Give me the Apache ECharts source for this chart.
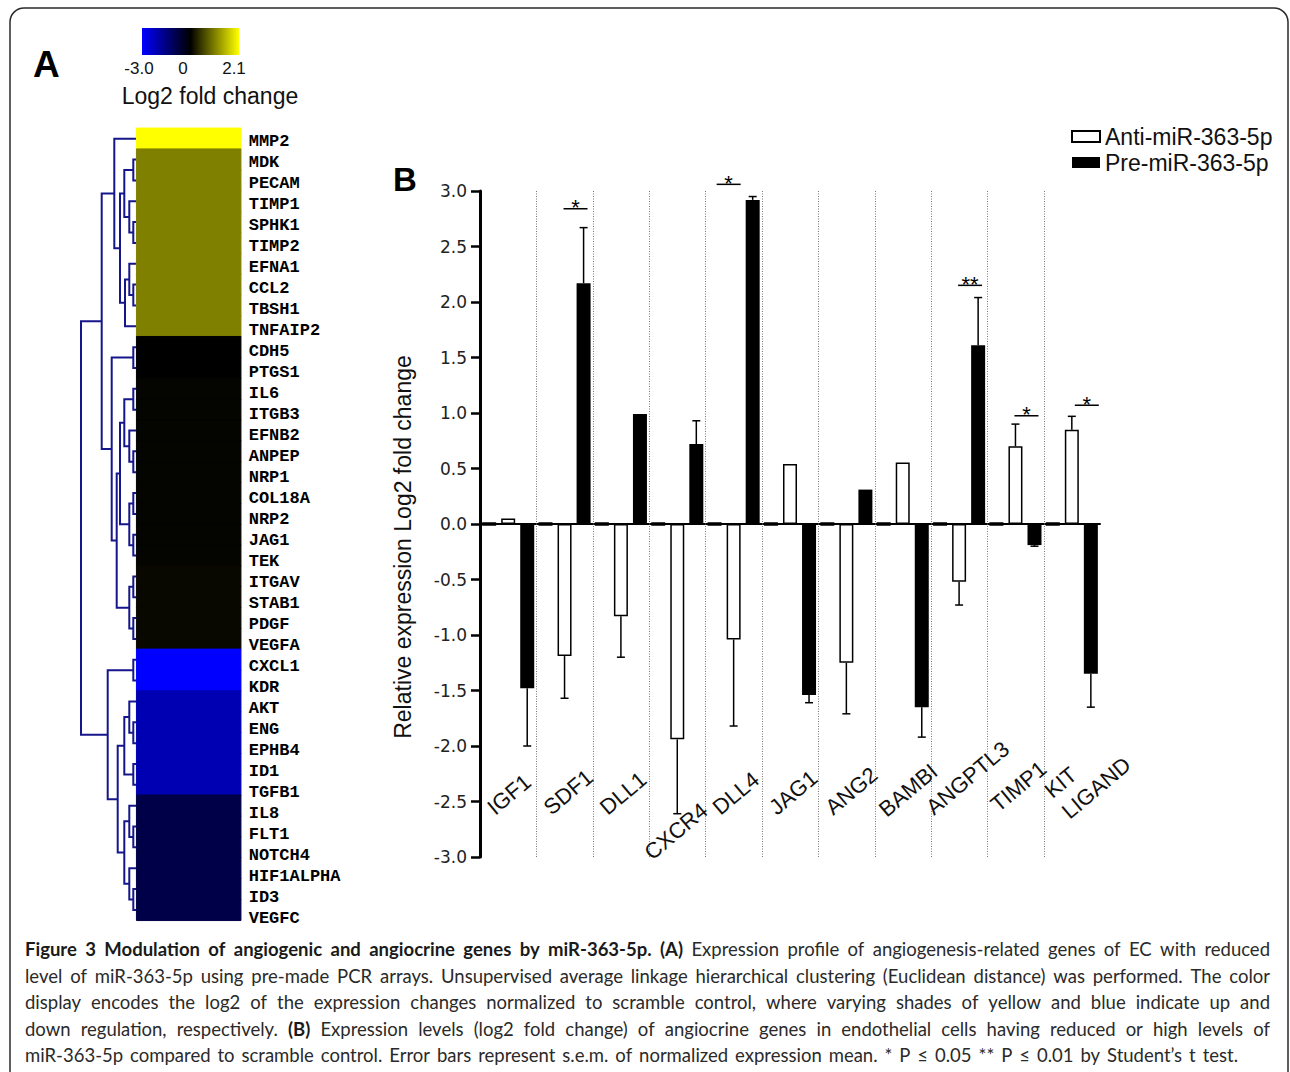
<!DOCTYPE html>
<html><head><meta charset="utf-8">
<script src="https://cdn.jsdelivr.net/npm/echarts@6/dist/echarts.min.js"></script>
<style>html,body{margin:0;padding:0;background:#fff}#c{width:1290px;height:1072px}</style>
</head><body><div id="c"></div>
<script>
// ---------------- Panel A data ----------------
const genes = ['MMP2','MDK','PECAM','TIMP1','SPHK1','TIMP2','EFNA1','CCL2','TBSH1','TNFAIP2',
  'CDH5','PTGS1','IL6','ITGB3','EFNB2','ANPEP','NRP1','COL18A','NRP2','JAG1','TEK',
  'ITGAV','STAB1','PDGF','VEGFA','CXCL1','KDR','AKT','ENG','EPHB4','ID1','TGFB1',
  'IL8','FLT1','NOTCH4','HIF1ALPHA','ID3','VEGFC'];
const geneLog2FC = [2.1,
  1.05,1.05,1.05,1.05,1.05,1.05,1.05,1.05,1.05,
  0.0,0.0,
  0.03,0.03,0.03,0.03,0.03,0.03,0.03,0.03,0.03,
  0.07,0.07,0.07,0.07,
  -3.0,-3.0,
  -2.1,-2.1,-2.1,-2.1,-2.1,
  -0.85,-0.85,-0.85,-0.85,-0.85,-0.85];
const colorScaleMin = -3.0;
const colorScaleMax = 2.1;
const colorScaleTicks = ['-3.0','0','2.1'];
// dendrogram merges: [childA, childB, height]; ids < 38 are gene rows, id 38+k is merge k
const dendroMerges = [
  [1,2,3.4],[4,5,3.4],[3,39,7.4],[38,40,12.4],[7,8,3.4],[6,42,7.4],[43,9,11.7],[41,44,16.7],[0,45,22.4],
  [10,11,3.4],[12,13,3.4],[15,16,3.4],[14,49,7.4],[48,50,12.4],[17,18,3.4],[19,20,3.4],[52,53,7.4],[51,54,16.7],
  [21,22,3.4],[23,24,3.4],[56,57,7.4],[55,58,20],[47,59,25],[46,60,35],
  [25,26,3.4],[28,29,3.4],[27,63,7.4],[30,31,3.4],[64,65,12.4],[33,34,3.4],[32,67,7.4],[36,37,3.4],[35,69,7.4],
  [68,70,12.4],[66,71,19],[62,72,29],[61,73,55.7]
];

// ---------------- Panel B data ----------------
const barGenes = ['IGF1','SDF1','DLL1','CXCR4','DLL4','JAG1','ANG2','BAMBI','ANGPTL3','TIMP1','KIT\nLIGAND'];
const scrambleCtrl = [0,0,0,0,0,0,0,0,0,0,0];
const antiMean = [0.05,-1.19,-0.83,-1.94,-1.04,0.54,-1.25,0.555,-0.52,0.70,0.85];
const antiSem  = [0,0.38,0.37,0.67,0.78,0,0.46,0,0.21,0.20,0.12];
const preMean  = [-1.48,2.17,0.99,0.72,2.92,-1.54,0.31,-1.65,1.61,-0.19,-1.35];
const preSem   = [0.52,0.50,0,0.21,0.03,0.07,0,0.27,0.43,0.01,0.30];
const sigGenes = ['SDF1','DLL4','ANGPTL3','TIMP1','KIT\nLIGAND'];
const sigMarks = ['*','*','**','*','*'];
const sigLevel = [2.84,3.06,2.15,0.975,1.07];

// ---------------- caption text ----------------
const captionLines = [
  [['Figure 3 Modulation of angiogenic and angiocrine genes by miR-363-5p.', true], ['(A)', true], ['Expression profile of angiogenesis-related genes of EC with reduced', false]],
  [['level of miR-363-5p using pre-made PCR arrays. Unsupervised average linkage hierarchical clustering (Euclidean distance) was performed. The color', false]],
  [['display encodes the log2 of the expression changes normalized to scramble control, where varying shades of yellow and blue indicate up and', false]],
  [['down regulation, respectively.', false], ['(B)', true], ['Expression levels (log2 fold change) of angiocrine genes in endothelial cells having reduced or high levels of', false]],
  [['miR-363-5p compared to scramble control. Error bars represent s.e.m. of normalized expression mean. * P \u2264 0.05 ** P \u2264 0.01 by Student\u2019s t test.', false]]
];

// ================= build =================
const SANS = '"Liberation Sans", Arial, sans-serif';
const nLeaf = genes.length;
const nodeH = [], nodeY = [];
for (let i = 0; i < nLeaf; i++) { nodeH[i] = 0; nodeY[i] = i; }
const dendroData = dendroMerges.map((m, k) => {
  const a = m[0], b = m[1], h = m[2], id = nLeaf + k;
  nodeH[id] = h; nodeY[id] = (nodeY[a] + nodeY[b]) / 2;
  return [h, nodeY[id], nodeH[a], nodeY[a], nodeH[b], nodeY[b]];
});

// colour scale: blue -> black at 0 -> yellow
function colorFor(v) {
  if (v < 0) { const b = Math.round(255 * Math.min(1, v / colorScaleMin)); return 'rgb(0,0,' + b + ')'; }
  const y = Math.round(255 * Math.min(1, v / colorScaleMax)); return 'rgb(' + y + ',' + y + ',0)';
}
const nStops = 51, stops = [];
for (let i = 0; i <= nStops; i++) stops.push(colorFor(colorScaleMin + (colorScaleMax - colorScaleMin) * i / nStops));

const heatData = genes.map((g, i) => ({value: [0, i, geneLog2FC[i]], itemStyle: {borderColor: colorFor(geneLog2FC[i]), borderWidth: 1}}));

const BAR_W = 14, BAR_GAP = 0.36, BAR_STEP = BAR_W * (1 + BAR_GAP);
const errData = [];
barGenes.forEach((g, i) => {
  errData.push([i, antiMean[i], antiSem[i], 1]);
  errData.push([i, preMean[i], preSem[i], 2]);
});
const sigData = sigGenes.map((g, k) => [barGenes.indexOf(g), sigLevel[k], k]);
const dividerData = barGenes.slice(0, -1).map((g, i) => [i, 3]);
const labelData = barGenes.map((g, i) => [i, -2.6]);
const labelNudge = {'CXCR4': [-12, 45], 'ANGPTL3': [-12, 0], 'KIT\nLIGAND': [11, 4], 'BAMBI': [-3, 2], 'TIMP1': [-4, -3]};
const sigShift = {'DLL4': -16, 'KIT\nLIGAND': 4};

function txtStyle(o) {
  const s = Object.assign({}, o);
  if (s.align) s.textAlign = s.align;
  if (s.verticalAlign) s.textVerticalAlign = s.verticalAlign;
  if (s.fill) s.textFill = s.fill;
  return s;
}

function renderDendro(params, api) {
  const h = api.value(0), ha = api.value(2), ya = api.value(3), hb = api.value(4), yb = api.value(5);
  const pts = [api.coord([ha, ya]), api.coord([h, ya]), api.coord([h, yb]), api.coord([hb, yb])];
  return {type: 'polyline', shape: {points: pts}, style: {stroke: '#16168c', lineWidth: 2, fill: null}};
}
function renderErr(params, api) {
  const i = api.value(0), v = api.value(1), e = api.value(2), slot = api.value(3);
  if (!e) return null;
  const dx = (slot - 1) * BAR_STEP;
  const p0 = api.coord([i, v]), p1 = api.coord([i, v + (v < 0 ? -e : e)]);
  const x = p0[0] + dx;
  return {type: 'group', children: [
    {type: 'line', shape: {x1: x, y1: p0[1], x2: x, y2: p1[1]}, style: {stroke: '#000', lineWidth: 1.5}},
    {type: 'line', shape: {x1: x - 4, y1: p1[1], x2: x + 4, y2: p1[1]}, style: {stroke: '#000', lineWidth: 1.5}}
  ]};
}
function renderDivider(params, api) {
  const i = api.value(0);
  const t = api.coord([i, 3]), b = api.coord([i, -3]);
  const band = api.size([1, 0])[0];
  const x = Math.round(t[0] + band / 2) + 0.5;
  return {type: 'line', shape: {x1: x, y1: t[1], x2: x, y2: b[1]}, style: {stroke: '#777', lineWidth: 1, lineDash: [1, 1.5]}};
}
function renderSig(params, api) {
  const i = api.value(0), lvl = api.value(1), k = api.value(2);
  const c = api.coord([i, lvl]);
  const sh = sigShift[barGenes[i]] || 0;
  const x1 = c[0] - 1 + sh, x2 = c[0] + 23 + sh;
  return {type: 'group', children: [
    {type: 'line', shape: {x1: x1, y1: c[1], x2: x2, y2: c[1]}, style: {stroke: '#000', lineWidth: 1.5}},
    {type: 'text', x: (x1 + x2) / 2, y: c[1] - 1, style: txtStyle({text: sigMarks[k], font: '22px ' + SANS, fill: '#000', align: 'center', verticalAlign: 'middle'})}
  ]};
}
function renderLabel(params, api) {
  const i = api.value(0), v = api.value(1);
  const name = barGenes[i];
  const c = api.coord([i, v]);
  const band = api.size([1, 0])[0];
  const n = labelNudge[name] || [0, 0];
  return {type: 'text', x: c[0] - band / 2 + 19 + n[0], y: c[1] + 8 + n[1], rotation: 40 * Math.PI / 180,
    style: txtStyle({text: name, x: 0, y: 0, font: '22px ' + SANS, fill: '#111', align: 'left', verticalAlign: 'bottom', lineHeight: 27})};
}

// ---------------- graphics: frame, panel letters, colour bar, caption ----------------
const graphics = [];
graphics.push({type: 'rect', z: -10, shape: {x: 10, y: 8, width: 1278, height: 1085, r: 14}, style: {fill: null, stroke: '#2b2b2b', lineWidth: 1.5}});
graphics.push({type: 'text', x: 33, y: 64, style: txtStyle({text: 'A', font: 'bold 37px ' + SANS, fill: '#000', align: 'left', verticalAlign: 'middle'})});
graphics.push({type: 'text', x: 393, y: 179, style: txtStyle({text: 'B', font: 'bold 33px ' + SANS, fill: '#000', align: 'left', verticalAlign: 'middle'})});
graphics.push({type: 'rect', shape: {x: 142, y: 28, width: 97, height: 27}, style: {fill: {type: 'linear', x: 0, y: 0, x2: 1, y2: 0,
  colorStops: [{offset: 0, color: stops[0]}, {offset: 0.5, color: '#000'}, {offset: 1, color: stops[stops.length - 1]}]}}});
const cbX = [139, 183, 234];
colorScaleTicks.forEach((t, i) => graphics.push({type: 'text', x: cbX[i], y: 68, style: txtStyle({text: t, font: '17px ' + SANS, fill: '#111', align: 'center', verticalAlign: 'middle'})}));
graphics.push({type: 'text', x: 210, y: 96, style: txtStyle({text: 'Log2 fold change', font: '23px ' + SANS, fill: '#111', align: 'center', verticalAlign: 'middle'})});

// caption, justified word by word
const cv = document.createElement('canvas').getContext('2d');
const CAP_FONT = 'Lato';
function wW(w, bold, size) { cv.font = (bold ? 'bold ' : '') + size + 'px ' + CAP_FONT; return cv.measureText(w).width; }
const capLeft = 25, capRight = [1270, 1270, 1270, 1270, 1238], capY = [949, 975.5, 1002, 1028.5, 1055];
const capWords = captionLines.map(segs => {
  const ws = [];
  segs.forEach(s => s[0].split(' ').forEach(w => ws.push([w, s[1]])));
  return ws;
});
let capSize = 18.5;
capWords.forEach((ws, li) => {
  let tot = 0; ws.forEach(w => tot += wW(w[0], w[1], capSize));
  tot += (ws.length - 1) * capSize * 0.2;
  const tgt = capRight[li] - capLeft;
  if (tot > tgt) capSize = capSize * tgt / tot;
});
capWords.forEach((ws, li) => {
  const widths = ws.map(w => wW(w[0], w[1], capSize));
  const sum = widths.reduce((a, b) => a + b, 0);
  const gap = (capRight[li] - capLeft - sum) / (ws.length - 1);
  let x = capLeft;
  ws.forEach((w, k) => {
    graphics.push({type: 'text', x: x, y: capY[li], style: txtStyle({text: w[0], font: (w[1] ? 'bold ' : '') + capSize.toFixed(2) + 'px ' + CAP_FONT,
      fill: w[1] ? '#1a1a1a' : '#2a2a2a', align: 'left', verticalAlign: 'middle'})});
    x += widths[k] + gap;
  });
});

const HM_TOP = 128.3, HM_H = 792;
const option = {
  backgroundColor: '#fff',
  animation: false,
  graphic: {elements: graphics},
  legend: {data: ['Anti-miR-363-5p', 'Pre-miR-363-5p'], orient: 'vertical', left: 1066, top: 120,
    itemWidth: 28, itemHeight: 11, itemGap: 3, icon: 'rect',
    textStyle: {fontSize: 23, fontFamily: SANS, color: '#111'}},
  visualMap: {type: 'continuous', show: false, seriesIndex: 1, min: colorScaleMin, max: colorScaleMax, inRange: {color: stops}},
  grid: [
    {left: 81, top: HM_TOP, width: 55.7, height: HM_H, outerBoundsMode: 'none', containLabel: false},
    {left: 136.7, top: HM_TOP, width: 104, height: HM_H, outerBoundsMode: 'none', containLabel: false},
    {left: 136.7, top: 131.2, width: 104, height: 797.6, outerBoundsMode: 'none', containLabel: false},
    {left: 480, top: 191, width: 620, height: 666, outerBoundsMode: 'none', containLabel: false}
  ],
  xAxis: [
    {gridIndex: 0, type: 'value', min: 0, max: 55.7, inverse: true, show: false},
    {gridIndex: 1, type: 'category', data: ['log2FC'], show: false},
    {gridIndex: 2, type: 'value', show: false},
    {gridIndex: 3, type: 'category', data: barGenes,
      axisLine: {onZero: true, lineStyle: {color: '#000', width: 2}}, axisTick: {show: false}, axisLabel: {show: false}, splitLine: {show: false}}
  ],
  yAxis: [
    {gridIndex: 0, type: 'value', min: -0.5, max: nLeaf - 0.5, inverse: true, show: false},
    {gridIndex: 1, type: 'category', data: genes, inverse: true, show: false},
    {gridIndex: 2, type: 'category', data: genes, inverse: true, position: 'right',
      axisLine: {show: false}, axisTick: {show: false}, splitLine: {show: false},
      axisLabel: {interval: 0, margin: 8, fontFamily: '"Liberation Mono", "Courier New", monospace', fontWeight: 'bold', fontSize: 17, color: '#000'}},
    {gridIndex: 3, type: 'value', min: -3, max: 3, interval: 0.5,
      name: 'Relative expression Log2 fold change', nameLocation: 'middle', nameGap: 66,
      nameTextStyle: {fontSize: 23, fontFamily: SANS, color: '#111', padding: [0, 46, 0, 0]},
      axisLine: {show: true, onZero: false, lineStyle: {color: '#000', width: 3}},
      axisTick: {show: true, length: 9, lineStyle: {color: '#000', width: 2.5}},
      axisLabel: {margin: 13, formatter: v => v.toFixed(1), fontFamily: '"DejaVu Sans", sans-serif', fontSize: 17, color: '#222'},
      splitLine: {show: false}}
  ],
  series: [
    {type: 'custom', name: 'dendrogram', xAxisIndex: 0, yAxisIndex: 0, renderItem: renderDendro, data: dendroData, encode: {x: 0, y: 1}, silent: true},
    {type: 'heatmap', name: 'log2 fold change', xAxisIndex: 1, yAxisIndex: 1, data: heatData, emphasis: {disabled: true}, silent: true},
    {type: 'bar', name: 'Scramble control', xAxisIndex: 3, yAxisIndex: 3, data: scrambleCtrl, barWidth: BAR_W, barGap: (BAR_GAP * 100) + '%',
      itemStyle: {color: '#000', borderColor: '#000', borderWidth: 3.5}, silent: true},
    {type: 'bar', name: 'Anti-miR-363-5p', xAxisIndex: 3, yAxisIndex: 3, data: antiMean, barWidth: BAR_W, barGap: (BAR_GAP * 100) + '%',
      itemStyle: {color: '#fff', borderColor: '#000', borderWidth: 1.5}},
    {type: 'bar', name: 'Pre-miR-363-5p', xAxisIndex: 3, yAxisIndex: 3, data: preMean, barWidth: BAR_W, barGap: (BAR_GAP * 100) + '%',
      itemStyle: {color: '#000', borderColor: '#000', borderWidth: 0}},
    {type: 'custom', name: 'sem', xAxisIndex: 3, yAxisIndex: 3, renderItem: renderErr, data: errData, encode: {x: 0, y: 1}, silent: true, z: 5},
    {type: 'custom', name: 'dividers', xAxisIndex: 3, yAxisIndex: 3, renderItem: renderDivider, data: dividerData, encode: {x: 0, y: 1}, silent: true, z: 1},
    {type: 'custom', name: 'significance', xAxisIndex: 3, yAxisIndex: 3, renderItem: renderSig, data: sigData, encode: {x: 0, y: 1}, silent: true, z: 5},
    {type: 'custom', name: 'gene labels', xAxisIndex: 3, yAxisIndex: 3, renderItem: renderLabel, data: labelData, encode: {x: 0, y: 1}, silent: true, z: 5}
  ]
};
const chart = echarts.init(document.getElementById('c'), null, {renderer: 'svg', width: 1290, height: 1072});
chart.setOption(option);
</script>
</body></html>
